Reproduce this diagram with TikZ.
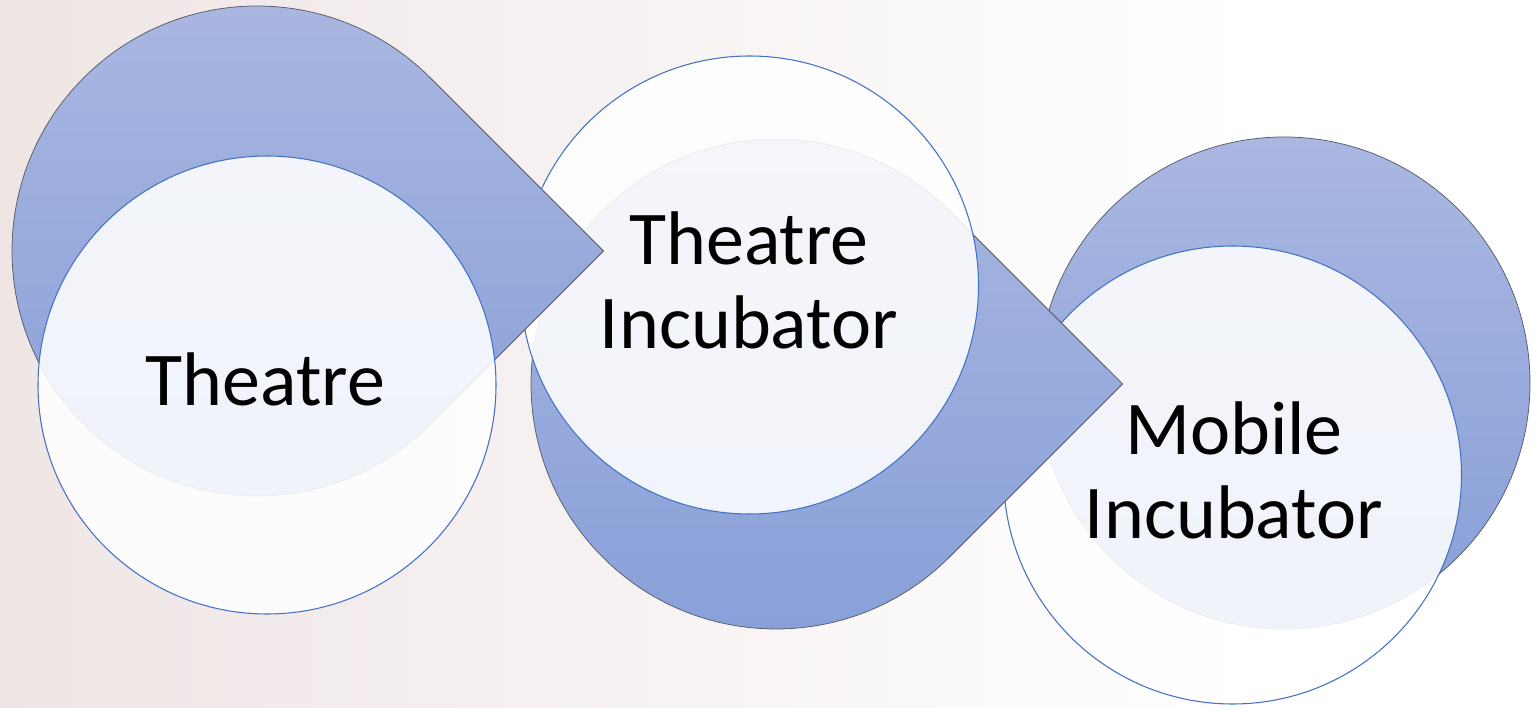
\documentclass[tikz,border=0pt]{standalone}
\usepackage{fontspec}
\setmainfont{Carlito}
\usetikzlibrary{calc}
\definecolor{dropTop}{HTML}{AAB7E1}
\definecolor{dropBot}{HTML}{879FD8}
\definecolor{dropLine}{HTML}{555B66}
\definecolor{bubLine}{HTML}{4472C4}
\definecolor{bgL}{HTML}{EFE5E5}
\definecolor{bgM}{HTML}{F4EEEE}
\begin{document}
\begin{tikzpicture}[x=0.75pt,y=0.75pt,
  drop/.style={top color=dropTop, bottom color=dropBot, draw=dropLine, line width=0.55pt},
  bubble/.style={circle, draw=bubLine, line width=0.8pt, fill=white, fill opacity=0.88,
    minimum size=343.5pt, inner sep=0pt},
  lbl/.style={font=\fontsize{57}{63}\selectfont, align=center, text=black, inner sep=0pt}]
\useasboundingbox (0,0) rectangle (1533,707);
% background
\shade[left color=bgL, middle color=bgM, right color=white] (0,0) rectangle (1250,707);
\fill[white] (1250,0) rectangle (1533,707);
% third drop and circle
\path[drop] (1284,324) circle[radius=246];
\node[bubble] (c3) at (1232.5,232) {};
% second drop and circle
\coordinate (p2) at (1122.5,323);
\path[drop] (p2) -- ($(776,323)+(45:245)$) arc[start angle=45, end angle=315, radius=245] -- cycle;
\node[bubble] (c2) at (749.5,422) {};
% first drop and circle
\coordinate (p1) at (603.5,456);
\path[drop] (p1) -- ($(257,456)+(45:245)$) arc[start angle=45, end angle=315, radius=245] -- cycle;
\node[bubble] (c1) at (267,322) {};
% labels
\node[lbl] (t1) at (265.5,327.5) {Theatre};
\node[lbl] (t2) at (749,427) {Theatre\\Incubator};
\node[lbl] (t3) at (1234,236.5) {Mobile\\Incubator};
\end{tikzpicture}
\end{document}
